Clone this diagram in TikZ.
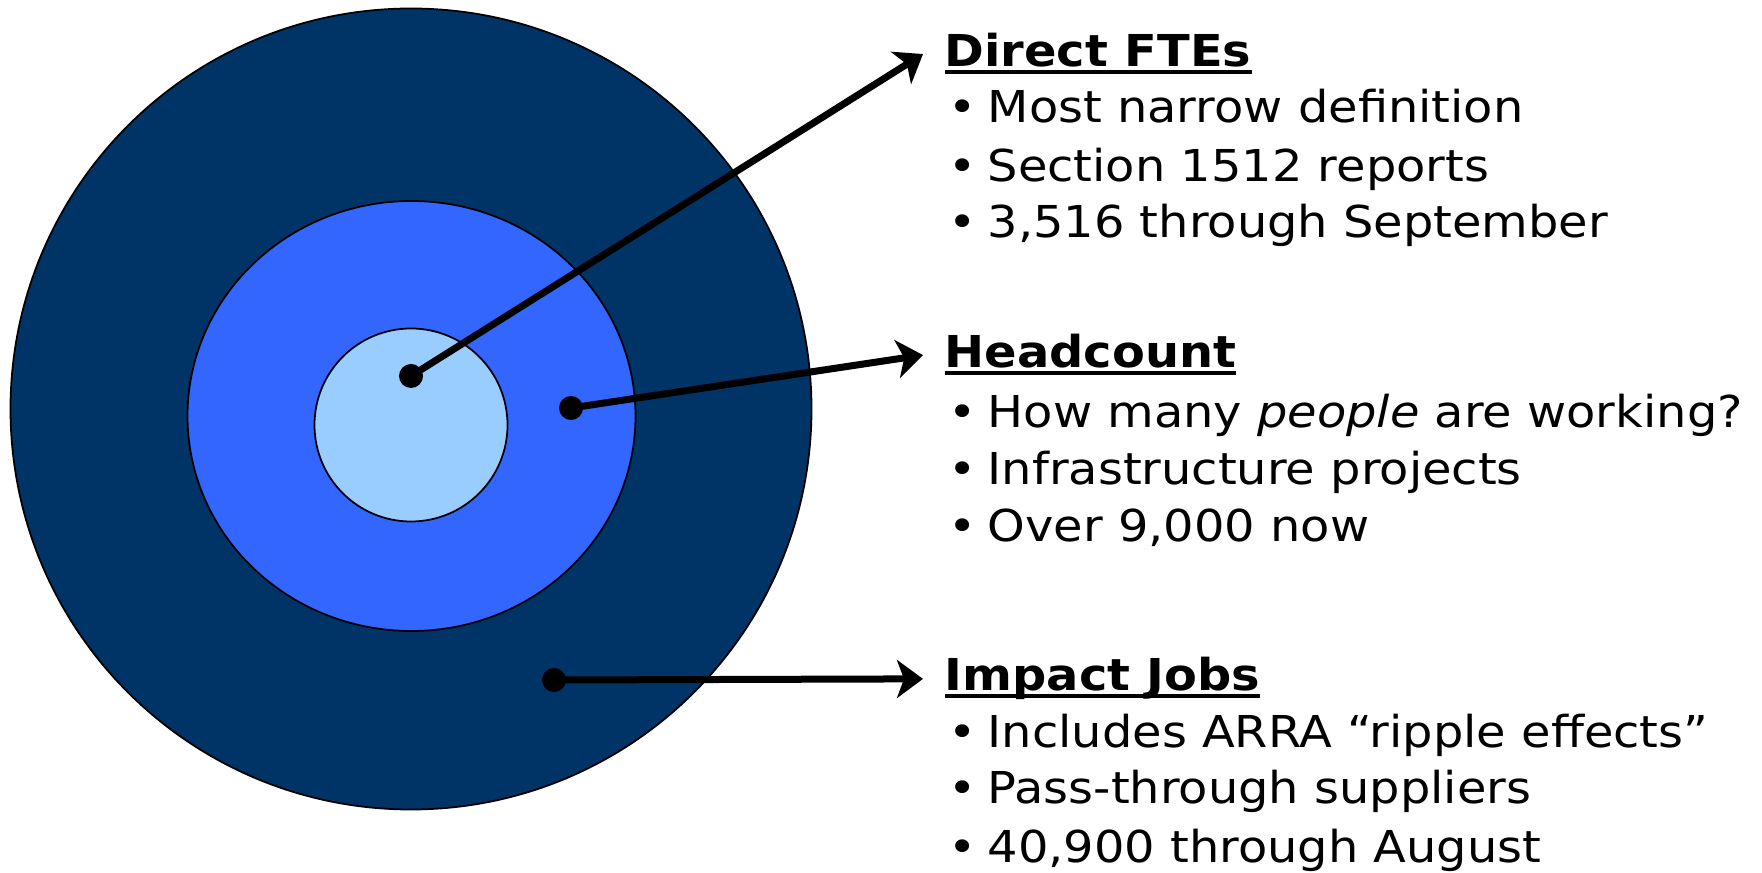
\documentclass[tikz,border=0pt]{standalone}
\usepackage{fontspec}
\setmainfont[FakeStretch=1.09]{DejaVu Sans}
\usetikzlibrary{arrows.meta}

\definecolor{ringNavy}{HTML}{003366}
\definecolor{ringBlue}{HTML}{3366FF}
\definecolor{ringSky}{HTML}{99CCFF}

\newcommand{\headul}[1]{\setbox0\hbox{#1}\rlap{\rule[-0.075cm]{\wd0}{0.045cm}}\box0}
\newcommand{\bul}{\makebox[0.43cm][l]{\hspace{0.04cm}\textbullet}}

\begin{document}
\begin{tikzpicture}[
	ring/.style={draw=black, line width=0.5pt},
	pointer/.style={-{Stealth[length=0.26cm,width=0.38cm,inset=0.07cm]}, line width=0.07cm},
	heading/.style={anchor=base west, inner xsep=0.21cm, inner ysep=0pt, font=\fontsize{12.5}{15}\selectfont\bfseries},
	item/.style={anchor=base west, inner sep=0pt, font=\fontsize{12.5}{15}\selectfont}]
	\useasboundingbox (0,0) rectangle (17.62,8.72);

	% target rings
	\filldraw[ring, fill=ringNavy] (4.11,4.63) circle (4.005);
	\filldraw[ring, fill=ringBlue] (4.115,4.56) ellipse (2.24 and 2.15);
	\filldraw[ring, fill=ringSky] (4.11,4.47) circle (0.965);

	\coordinate (ctrDot) at (4.11,4.96);
	\coordinate (midDot) at (5.71,4.64);
	\coordinate (outDot) at (5.54,1.92);
	\fill (ctrDot) circle (0.12);
	\fill (midDot) circle (0.12);
	\fill (outDot) circle (0.12);

	\node[heading] (fte) at (9.23,8.05) {\headul{Direct FTEs}};
	\node[item] (fte1) at (9.44,7.49) {\bul Most narrow definition};
	\node[item] (fte2) at (9.44,6.90) {\bul Section 1512 reports};
	\node[item] (fte3) at (9.44,6.34) {\bul 3,516 through September};

	\node[heading] (head) at (9.23,5.04) {\headul{Headcount}};
	\node[item] (head1) at (9.44,4.44) {\bul How many \textit{people} are working?};
	\node[item] (head2) at (9.44,3.87) {\bul Infrastructure projects};
	\node[item] (head3) at (9.44,3.30) {\bul Over 9,000 now};

	\node[heading] (impact) at (9.23,1.81) {\headul{Impact Jobs}};
	\node[item] (impact1) at (9.44,1.25) {\bul Includes ARRA “ripple effects”};
	\node[item] (impact2) at (9.44,0.69) {\bul Pass-through suppliers};
	\node[item] (impact3) at (9.44,0.10) {\bul 40,900 through August};

	\draw[pointer] (ctrDot) -- (fte.west);
	\draw[pointer] (midDot) -- (head.west);
	\draw[pointer] (outDot) -- (impact.west);
\end{tikzpicture}
\end{document}
